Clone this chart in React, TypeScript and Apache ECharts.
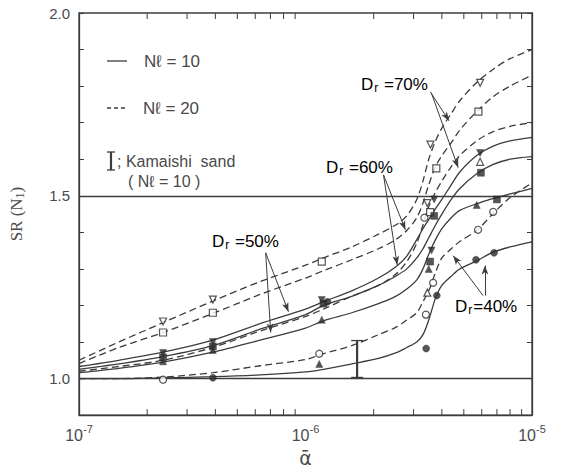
import React, { useEffect, useRef } from 'react';
import * as echarts from 'echarts';

// ---- axis definitions ----
const xTicks = [1e-7, 1e-6, 1e-5];
const xTickExp = ['-7', '-6', '-5'];
const yLabelTicks = ['1.0', '1.5', '2.0'];
const minorX = [2e-7, 3e-7, 4e-7, 5e-7, 6e-7, 7e-7, 8e-7, 9e-7, 2e-6, 3e-6, 4e-6, 5e-6, 6e-6, 7e-6, 8e-6, 9e-6];
const refLinesY = [1.0, 1.5];
const refLinesX = [1e-6];

// ---- curve abscissae (alpha) ----
const alphaPts = [1e-7, 1.5e-7, 2.35e-7, 3.9e-7, 6.3e-7, 1e-6, 1.2e-6, 1.6e-6, 2.1e-6, 2.5e-6, 2.8e-6, 3.1e-6, 3.3e-6, 3.5e-6, 3.75e-6, 4e-6, 4.4e-6, 4.8e-6, 5.7e-6, 6.7e-6, 8e-6, 1e-5];

// Nl = 20 (dashed)
const dr70n20 = [1.05, 1.10, 1.153, 1.212, 1.265, 1.31, 1.33, 1.36, 1.395, 1.42, 1.445, 1.49, 1.54, 1.60, 1.65, 1.685, 1.725, 1.76, 1.81, 1.845, 1.875, 1.90];
const dr60n20 = [1.041, 1.085, 1.126, 1.178, 1.23, 1.275, 1.295, 1.325, 1.355, 1.38, 1.405, 1.44, 1.48, 1.53, 1.58, 1.61, 1.645, 1.68, 1.73, 1.77, 1.80, 1.83];
const dr50n20 = [1.02, 1.033, 1.05, 1.085, 1.13, 1.17, 1.19, 1.225, 1.255, 1.285, 1.32, 1.37, 1.42, 1.47, 1.51, 1.54, 1.58, 1.61, 1.65, 1.675, 1.69, 1.70];
const dr40n20 = [1.0, 1.0, 1.004, 1.016, 1.035, 1.052, 1.068, 1.09, 1.12, 1.14, 1.16, 1.18, 1.21, 1.24, 1.29, 1.33, 1.355, 1.375, 1.405, 1.45, 1.495, 1.535];
// Nl = 10 (solid)
const dr70n10 = [1.033, 1.05, 1.072, 1.105, 1.15, 1.19, 1.21, 1.24, 1.275, 1.305, 1.335, 1.38, 1.41, 1.435, 1.465, 1.49, 1.53, 1.565, 1.61, 1.635, 1.65, 1.66];
const dr60n10 = [1.025, 1.04, 1.06, 1.09, 1.135, 1.175, 1.20, 1.225, 1.255, 1.28, 1.30, 1.33, 1.355, 1.385, 1.42, 1.45, 1.49, 1.52, 1.56, 1.585, 1.60, 1.607];
const dr50n10 = [1.016, 1.028, 1.045, 1.072, 1.105, 1.138, 1.158, 1.18, 1.205, 1.225, 1.245, 1.27, 1.30, 1.34, 1.38, 1.41, 1.44, 1.46, 1.478, 1.492, 1.505, 1.52];
const dr40n10 = [1.0, 1.0, 1.002, 1.005, 1.01, 1.018, 1.025, 1.04, 1.055, 1.07, 1.085, 1.10, 1.12, 1.16, 1.22, 1.255, 1.28, 1.30, 1.322, 1.345, 1.36, 1.374];

// ---- measured points ----
const openTriDown = [[2.35e-7, 1.156], [3.9e-7, 1.216], [3.56e-6, 1.64], [3.45e-6, 1.48], [5.9e-6, 1.809]];
const openSquare = [[2.35e-7, 1.126], [3.9e-7, 1.18], [1.18e-6, 1.32], [3.78e-6, 1.575], [3.55e-6, 1.455], [5.8e-6, 1.73]];
const openTriUp = [[3.45e-6, 1.235], [5.9e-6, 1.593]];
const openCircle = [[2.35e-7, 0.997], [1.15e-6, 1.068], [3.4e-6, 1.175], [3.66e-6, 1.262], [3.35e-6, 1.44], [5.78e-6, 1.407], [6.74e-6, 1.456]];
const filledTriDown = [[2.35e-7, 1.07], [3.9e-7, 1.10], [1.18e-6, 1.215], [3.6e-6, 1.35], [3.7e-6, 1.49], [5.9e-6, 1.617]];
const filledSquare = [[2.35e-7, 1.058], [3.9e-7, 1.088], [1.2e-6, 1.205], [3.55e-6, 1.32], [3.7e-6, 1.445], [5.95e-6, 1.563], [7.0e-6, 1.49]];
const filledTriUp = [[2.35e-7, 1.047], [3.9e-7, 1.078], [1.18e-6, 1.161], [1.15e-6, 1.04], [3.5e-6, 1.30], [5.7e-6, 1.475]];
const filledCircle = [[3.9e-7, 1.002], [1.25e-6, 1.21], [3.41e-6, 1.082], [3.8e-6, 1.227], [5.66e-6, 1.325], [6.8e-6, 1.344]];

// Kamaishi sand range [alpha, low, high]
const kamaishi = [[1.69e-6, 1.003, 1.104]];

// Label arrows [[startAlpha, startSR], [endAlpha, endSR]]
const arrows = [
  [[3.56e-6, 1.784], [4.3e-6, 1.705]],
  [[3.6e-6, 1.78], [4.72e-6, 1.577]],
  [[2.21e-6, 1.557], [2.76e-6, 1.407]],
  [[2.21e-6, 1.557], [2.54e-6, 1.311]],
  [[6.67e-7, 1.344], [7.02e-7, 1.126]],
  [[6.67e-7, 1.344], [8.41e-7, 1.183]],
  [[6.08e-6, 1.227], [4.49e-6, 1.336]],
  [[6.2e-6, 1.227], [6.2e-6, 1.309]],
];

const INK = '#3c3c3c';
const TXT = '#4a4a4a';
const SANS = 'Liberation Sans, Arial, sans-serif';

function curve(values: number[], dashed: boolean, extra: any = {}) {
  return {
    type: 'line',
    data: alphaPts.map((a, i) => [a, values[i]]),
    smooth: 0.3,
    symbol: 'none',
    showSymbol: false,
    silent: true,
    lineStyle: { color: INK, width: 1.3, type: dashed ? [7, 4] : 'solid' },
    z: 3,
    ...extra,
  };
}

function marks(data: number[][], symbol: string, filled: boolean, rotate = 0) {
  return {
    type: 'scatter',
    data,
    symbol,
    symbolRotate: rotate,
    symbolSize: 7,
    silent: true,
    itemStyle: filled
      ? { color: '#2a2a2a', borderColor: '#2a2a2a', borderWidth: 0.5 }
      : { color: '#ffffff', borderColor: '#2a2a2a', borderWidth: 1.2 },
    z: 5,
  };
}

const drLabel = (pct: string, gap: string) => `{a|D}{r|r}{a|${gap}=${pct}%}`;
const drRich = {
  a: { fontSize: 17, fontFamily: SANS, color: TXT },
  r: { fontSize: 12, fontFamily: SANS, color: TXT, padding: [8, 1, 0, 1] },
};

export default function App() {
  const ref = useRef<HTMLDivElement>(null);
  useEffect(() => {
    if (!ref.current) return;
    const chart = echarts.init(ref.current, undefined, { renderer: 'svg' });
    const option: any = {
      animation: false,
      backgroundColor: '#ffffff',
      grid: { left: 78, right: 34, top: 13, bottom: 56, show: true, borderColor: INK, borderWidth: 1.3, backgroundColor: 'transparent' },
      xAxis: {
        type: 'log',
        logBase: 10,
        min: xTicks[0],
        max: xTicks[2],
        name: 'ᾱ',
        nameLocation: 'middle',
        nameGap: 22,
        nameTextStyle: { fontSize: 19, color: TXT, fontFamily: 'DejaVu Sans' },
        axisLine: { show: true, lineStyle: { color: INK, width: 1.3 } },
        axisTick: { show: false },
        splitLine: { show: false },
        axisLabel: {
          margin: 8,
          formatter: (v: number) => {
            const i = xTicks.findIndex((t) => Math.abs(Math.log10(t) - Math.log10(v)) < 1e-6);
            return i >= 0 ? `{b|10}{s|${xTickExp[i]}}` : '';
          },
          rich: {
            b: { fontSize: 16, fontFamily: SANS, color: TXT, lineHeight: 22 },
            s: { fontSize: 11, fontFamily: SANS, color: TXT, padding: [0, 0, 13, 0] },
          },
        },
      },
      yAxis: [
        {
          type: 'value',
          min: 0.9,
          max: 2.0,
          interval: 0.1,
          name: '{n|SR (N}{s|1}{n|)}',
          nameLocation: 'middle',
          nameGap: 53,
          nameRotate: 90,
          nameTextStyle: {
            rich: {
              n: { fontSize: 17, fontFamily: 'Liberation Serif, serif', color: TXT },
              s: { fontSize: 12, fontFamily: 'Liberation Serif, serif', color: TXT, padding: [7, 0, 0, 0] },
            },
          },
          axisLine: { show: true, lineStyle: { color: INK, width: 1.3 } },
          axisTick: { show: true, inside: true, length: 5, lineStyle: { color: INK, width: 1 } },
          splitLine: { show: false },
          axisLabel: {
            margin: 9,
            fontSize: 15,
            fontFamily: SANS,
            color: TXT,
            formatter: (v: number) => {
              const s = (Math.round(v * 10) / 10).toFixed(1);
              return yLabelTicks.includes(s) ? s : '';
            },
          },
        },
        {
          type: 'value',
          position: 'right',
          min: 0.9,
          max: 2.0,
          interval: 0.1,
          axisLine: { show: true, lineStyle: { color: INK, width: 1.3 } },
          axisTick: { show: true, inside: true, length: 5, lineStyle: { color: INK, width: 1 } },
          axisLabel: { show: false },
          splitLine: { show: false },
        },
      ],
      series: [
        curve(dr70n20, true),
        curve(dr60n20, true),
        curve(dr50n20, true),
        curve(dr40n20, true, {
          markLine: {
            silent: true,
            symbol: ['none', 'arrow'],
            symbolSize: [5, 9],
            label: { show: false },
            lineStyle: { color: INK, width: 1, type: 'solid' },
            data: arrows.map(([s, e]) => [{ coord: s }, { coord: e }]),
          },
        }),
        curve(dr70n10, false),
        curve(dr60n10, false),
        curve(dr50n10, false),
        curve(dr40n10, false, {
          markLine: {
            silent: true,
            symbol: ['none', 'none'],
            label: { show: false },
            lineStyle: { color: INK, width: 1.4, type: 'solid' },
            data: [...refLinesY.map((y) => ({ yAxis: y })), ...refLinesX.map((x) => ({ xAxis: x }))],
          },
        }),
        marks(openTriDown, 'triangle', false, 180),
        marks(openSquare, 'rect', false),
        marks(openTriUp, 'triangle', false),
        marks(openCircle, 'circle', false),
        marks(filledTriDown, 'triangle', true, 180),
        marks(filledSquare, 'rect', true),
        marks(filledTriUp, 'triangle', true),
        marks(filledCircle, 'circle', true),
        {
          type: 'custom',
          silent: true,
          data: kamaishi,
          encode: { x: 0, y: [1, 2] },
          z: 4,
          renderItem: (_p: any, api: any) => {
            const x = api.value(0);
            const lo = api.coord([x, api.value(1)]);
            const hi = api.coord([x, api.value(2)]);
            const st = { stroke: INK, lineWidth: 1.3 };
            return {
              type: 'group',
              children: [
                { type: 'line', shape: { x1: lo[0], y1: lo[1], x2: hi[0], y2: hi[1] }, style: { stroke: INK, lineWidth: 2.2 } },
                { type: 'line', shape: { x1: lo[0] - 6, y1: lo[1], x2: lo[0] + 6, y2: lo[1] }, style: st },
                { type: 'line', shape: { x1: hi[0] - 6, y1: hi[1], x2: hi[0] + 6, y2: hi[1] }, style: st },
              ],
            };
          },
        },
        {
          type: 'custom',
          silent: true,
          data: minorX.map((v) => [v, 1.0]),
          encode: { x: 0, y: 1 },
          z: 4,
          renderItem: (_p: any, api: any) => {
            const v = api.value(0);
            const top = api.coord([v, 2.0]);
            const bot = api.coord([v, 0.9]);
            const st = { stroke: INK, lineWidth: 1 };
            return {
              type: 'group',
              children: [
                { type: 'line', shape: { x1: top[0], y1: top[1], x2: top[0], y2: top[1] + 6 }, style: st },
                { type: 'line', shape: { x1: bot[0], y1: bot[1], x2: bot[0], y2: bot[1] - 6 }, style: st },
              ],
            };
          },
        },
      ],
      graphic: [
        // legend
        { type: 'line', shape: { x1: 107, y1: 61, x2: 127, y2: 61 }, style: { stroke: INK, lineWidth: 1.3 } },
        { type: 'text', x: 144, y: 61, style: { text: 'Nℓ = 10', fontSize: 17, fontFamily: SANS, fill: TXT, verticalAlign: 'middle' } },
        { type: 'line', shape: { x1: 107, y1: 108, x2: 127, y2: 108 }, style: { stroke: INK, lineWidth: 1.3, lineDash: [4, 3] } },
        { type: 'text', x: 143, y: 108, style: { text: 'Nℓ = 20', fontSize: 17, fontFamily: SANS, fill: TXT, verticalAlign: 'middle' } },
        { type: 'line', shape: { x1: 111, y1: 152, x2: 111, y2: 170 }, style: { stroke: INK, lineWidth: 2.2 } },
        { type: 'line', shape: { x1: 107, y1: 152, x2: 115, y2: 152 }, style: { stroke: INK, lineWidth: 1.3 } },
        { type: 'line', shape: { x1: 107, y1: 170, x2: 115, y2: 170 }, style: { stroke: INK, lineWidth: 1.3 } },
        { type: 'text', x: 117, y: 161, style: { text: '; Kamaishi  sand', fontSize: 16, fontFamily: SANS, fill: TXT, verticalAlign: 'middle' } },
        { type: 'text', x: 128, y: 181, style: { text: '( Nℓ = 10 )', fontSize: 16, fontFamily: SANS, fill: TXT, verticalAlign: 'middle' } },
        // Dr labels
        { type: 'text', x: 361, y: 84, style: { text: drLabel('70', ' '), rich: drRich, verticalAlign: 'middle' } },
        { type: 'text', x: 326, y: 167, style: { text: drLabel('60', ' '), rich: drRich, verticalAlign: 'middle' } },
        { type: 'text', x: 212, y: 241, style: { text: drLabel('50', ' '), rich: drRich, verticalAlign: 'middle' } },
        { type: 'text', x: 455, y: 306, style: { text: drLabel('40', ''), rich: drRich, verticalAlign: 'middle' } },
      ],
    };
    chart.setOption(option);
    return () => chart.dispose();
  }, []);
  return <div ref={ref} style={{ position: 'fixed', left: 0, top: 0, width: 566, height: 472 }} />;
}
